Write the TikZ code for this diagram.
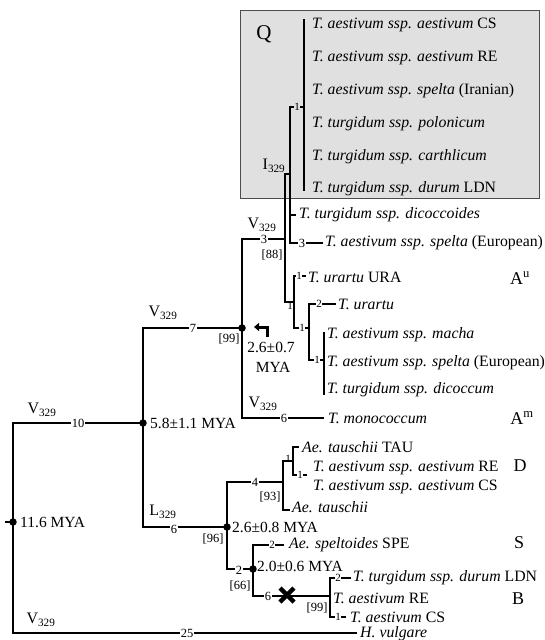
\documentclass[tikz,border=0pt]{standalone}
\usepackage{fontspec}
\setmainfont{Liberation Serif}
\usetikzlibrary{arrows.meta}
\definecolor{boxgray}{HTML}{E0E0E0}
\begin{document}
\begin{tikzpicture}[x=1pt,y=-1pt,
  tree/.style={line width=1.4pt, line cap=rect},
  spname/.style={anchor=west, inner sep=0pt, font=\fontsize{15.8}{17}\selectfont},
  blab/.style={inner sep=0.6pt, fill=white, font=\fontsize{12.5}{13}\selectfont},
  slab/.style={inner sep=0.5pt, fill=white, font=\fontsize{11}{12}\selectfont},
  boot/.style={inner sep=0pt, font=\fontsize{12.5}{13}\selectfont},
  mya/.style={inner sep=0pt, font=\fontsize{15.5}{17}\selectfont},
  grp/.style={inner sep=0pt, font=\fontsize{16}{18}\selectfont},
  clade/.style={inner sep=0pt, font=\fontsize{18}{20}\selectfont},
  dotn/.style={circle, fill=black, minimum size=7.5pt, inner sep=0pt}
]
\useasboundingbox (0,0) rectangle (544,640);
% highlight box
\draw[fill=boxgray, draw=black!70, line width=0.8pt] (240,10) rectangle (539,198);
\node[clade, font=\fontsize{21}{22}\selectfont] (q) at (264,34) {Q};

% named tree nodes
\coordinate (r) at (13,522);
\coordinate (rs) at (6,522);
\coordinate (n58) at (143,423);
\coordinate (n26) at (242,328);
\coordinate (nV) at (285,239);
\coordinate (nI) at (290,174);
\coordinate (nQ) at (304,107);
\coordinate (qtop) at (304,20);
\coordinate (qbot) at (304,190);
\coordinate (dcd) at (295,215);
\coordinate (speE) at (322,243);
\coordinate (nAu) at (294,302);
\coordinate (ura) at (305,276);
\coordinate (nU2) at (309,328);
\coordinate (urt) at (335,304);
\coordinate (nMac) at (324,360);
\coordinate (mtop) at (324,333);
\coordinate (mbot) at (324,394);
\coordinate (mono) at (323,418);
\coordinate (nL) at (227,527);
\coordinate (nD) at (283,482);
\coordinate (nTau) at (293,461);
\coordinate (tauE) at (298,447);
\coordinate (rcE) at (306,475);
\coordinate (tau2E) at (289,510);
\coordinate (nBS) at (253,569);
\coordinate (spe) at (283,545);
\coordinate (nB) at (330,596);
\coordinate (ldn) at (350,578);
\coordinate (csE) at (345,617);
\coordinate (hv) at (356,633);

% branches
\draw[tree] (rs) -- (r);
\draw[tree] (r) |- (n58);
\draw[tree] (r) |- (hv);
\draw[tree] (n58) |- (n26);
\draw[tree] (n58) |- (nL);
\draw[tree] (n26) |- (nV);
\draw[tree] (n26) |- (mono);
\draw[tree] (nV) |- (nI);
\draw[tree] (nV) |- (nAu);
\draw[tree] (nI) |- (nQ);
\draw[tree] (nI) |- (dcd);
\draw[tree] (nI) |- (speE);
\draw[tree] (qtop) -- (qbot);
\draw[tree] (nAu) |- (ura);
\draw[tree] (nAu) |- (nU2);
\draw[tree] (nU2) |- (urt);
\draw[tree] (nU2) |- (nMac);
\draw[tree] (mtop) -- (mbot);
\draw[tree] (nL) |- (nD);
\draw[tree] (nL) |- (nBS);
\draw[tree] (nD) |- (nTau);
\draw[tree] (nD) |- (tau2E);
\draw[tree] (nTau) |- (tauE);
\draw[tree] (nTau) |- (rcE);
\draw[tree] (nBS) |- (spe);
\draw[tree] (nBS) |- (nB);
\draw[tree] (nB) |- (ldn);
\draw[tree] (nB) |- (csE);

% dots
\node[dotn] (d1) at (r) {};
\node[dotn] (d2) at (n58) {};
\node[dotn] (d3) at (n26) {};
\node[dotn] (d4) at (nL) {};
\node[dotn] (d5) at (nBS) {};

% extinction mark
\draw[line width=4.5pt] (280,588) -- (294,602);
\draw[line width=4.5pt] (280,602) -- (294,588);

% arrow
\draw[line width=3pt, -{Triangle[length=5pt,width=8pt]}] (267,337) -- (267,327) -- (254,327);

% branch labels
\node[slab, fill=boxgray] (l1) at (297,107) {1};
\node[grp] (iq) at (274,166) {I\textsubscript{329}};
\node[grp] (v1) at (262,225) {V\textsubscript{329}};
\node[blab] (l3a) at (264,239) {3};
\node[boot] (b88) at (272,255) {[88]};
\node[blab] (l3b) at (302,243) {3};
\node[slab, fill=none] (l1b) at (290,306) {1};
\node[slab] (l1c) at (299,276) {1};
\node[slab] (l1d) at (302,328) {1};
\node[slab] (l2a) at (319,304) {2};
\node[slab] (l1e) at (317,360) {1};
\node[blab] (l7) at (193,328) {7};
\node[grp] (v2) at (163,313) {V\textsubscript{329}};
\node[boot] (b99) at (229,339) {[99]};
\node[mya] (m1) at (271,347) {2.6±0.7};
\node[mya] (m2) at (273,367) {MYA};
\node[grp] (v3) at (263,404) {V\textsubscript{329}};
\node[blab] (l6a) at (284,418) {6};
\node[grp] (v4) at (42,410) {V\textsubscript{329}};
\node[blab] (l10) at (78,423) {10};
\node[mya, anchor=west] (m3) at (150,423) {5.8±1.1 MYA};
\node[mya, anchor=west] (m4) at (20,522) {11.6 MYA};
\node[grp] (lL) at (163,512) {L\textsubscript{329}};
\node[blab] (l6b) at (174,529) {6};
\node[mya, anchor=west] (m5) at (232,527) {2.6±0.8 MYA};
\node[boot] (b96) at (213,539) {[96]};
\node[blab] (l4) at (255,482) {4};
\node[boot] (b93) at (270,497) {[93]};
\node[slab, fill=none] (l1f) at (288,459) {1};
\node[slab] (l1g) at (300,475) {1};
\node[blab] (l2b) at (239,570) {2};
\node[boot] (b66) at (240,586) {[66]};
\node[mya, anchor=west] (m6) at (257,566) {2.0±0.6 MYA};
\node[slab] (l2c) at (272,545) {2};
\node[blab] (l6c) at (268,596) {6};
\node[boot] (b99b) at (317,608) {[99]};
\node[slab] (l2d) at (338,578) {2};
\node[slab] (l1h) at (338,617) {1};
\node[grp] (v5) at (41,620) {V\textsubscript{329}};
\node[blab] (l25) at (187,633) {25};

% species
\node[spname] (s1) at (312,25) {\textit{T. aestivum ssp. aestivum} CS};
\node[spname] (s2) at (312,58) {\textit{T. aestivum ssp. aestivum} RE};
\node[spname] (s3) at (312,91) {\textit{T. aestivum ssp. spelta} (Iranian)};
\node[spname] (s4) at (312,124) {\textit{T. turgidum ssp. polonicum}};
\node[spname] (s5) at (312,157) {\textit{T. turgidum ssp. carthlicum}};
\node[spname] (s6) at (312,189) {\textit{T. turgidum ssp. durum} LDN};
\node[spname] (s7) at (299,215) {\textit{T. turgidum ssp. dicoccoides}};
\node[spname] (s8) at (325,243) {\textit{T. aestivum ssp. spelta} (European)};
\node[spname] (s9) at (308,277) {\textit{T. urartu} URA};
\node[spname] (s10) at (338,304) {\textit{T. urartu}};
\node[spname] (s11) at (327,335) {\textit{T. aestivum ssp. macha}};
\node[spname] (s12) at (327,363) {\textit{T. aestivum ssp. spelta} (European)};
\node[spname] (s13) at (327,390) {\textit{T. turgidum ssp. dicoccum}};
\node[spname] (s14) at (328,418) {\textit{T. monococcum}};
\node[spname] (s15) at (302,447) {\textit{Ae. tauschii} TAU};
\node[spname] (s16) at (313,468) {\textit{T. aestivum ssp. aestivum} RE};
\node[spname] (s17) at (313,487) {\textit{T. aestivum ssp. aestivum} CS};
\node[spname] (s18) at (292,507) {\textit{Ae. tauschii}};
\node[spname] (s19) at (289,545) {\textit{Ae. speltoides} SPE};
\node[spname] (s20) at (353,578) {\textit{T. turgidum ssp. durum} LDN};
\node[spname] (s21) at (333,598) {\textit{T. aestivum} RE};
\node[spname] (s22) at (350,617) {\textit{T. aestivum} CS};
\node[spname] (s23) at (360,634) {\textit{H. vulgare}};

% genome labels
\node[clade] (ga) at (520,278) {A\textsuperscript{u}};
\node[clade] (gm) at (522,418) {A\textsuperscript{m}};
\node[clade] (gd) at (520,466) {D};
\node[clade] (gs) at (519,543) {S};
\node[clade] (gb) at (518,599) {B};
\end{tikzpicture}
\end{document}
